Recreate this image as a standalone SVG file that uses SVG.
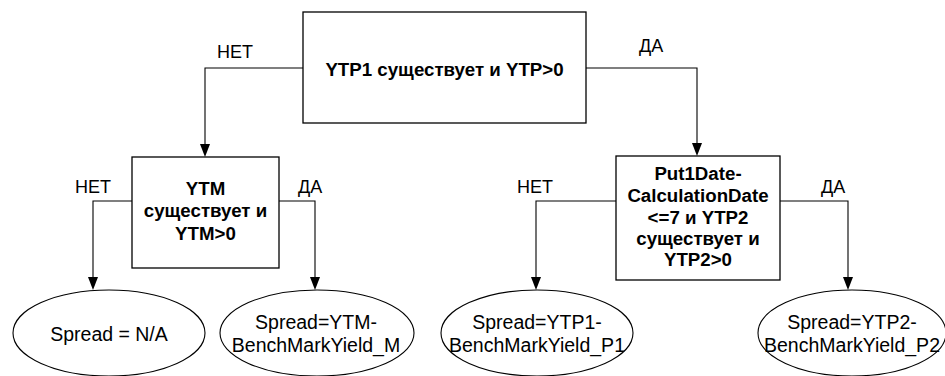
<svg xmlns="http://www.w3.org/2000/svg" width="945" height="376" viewBox="0 0 945 376">
<style>
.box{fill:#fff;stroke:#000;stroke-width:1.3}
.ell{fill:#fff;stroke:#000;stroke-width:1.1}
.c{fill:none;stroke:#000;stroke-width:1.1}
.b{font-family:"Liberation Sans",Arial,sans-serif;font-size:18.7px;font-weight:bold;text-anchor:middle;fill:#000}
.t{font-family:"Liberation Sans",Arial,sans-serif;font-size:19.5px;text-anchor:middle;fill:#000}
.l{font-family:"Liberation Sans",Arial,sans-serif;font-size:18px;fill:#000}
</style>
<g id="connectors">
<path class="c" d="M303,68 H205 V145"/>
<path class="c" d="M586,68 H697 V144"/>
<path class="c" d="M132,201 H93 V278"/>
<path class="c" d="M279,201 H315 V278"/>
<path class="c" d="M616,201 H536 V278"/>
<path class="c" d="M780,201 H848 V278"/>
<path d="M200,144 L210,144 L205,157 Z"/>
<path d="M692,143 L702,143 L697,156 Z"/>
<path d="M88,277 L98,277 L93,290 Z"/>
<path d="M310,277 L320,277 L315,290 Z"/>
<path d="M531,277 L541,277 L536,290 Z"/>
<path d="M843,277 L853,277 L848,290 Z"/>
<text class="l" x="217" y="58">НЕТ</text>
<text class="l" x="639" y="52">ДА</text>
<text class="l" x="75" y="193">НЕТ</text>
<text class="l" x="298" y="193">ДА</text>
<text class="l" x="517" y="193">НЕТ</text>
<text class="l" x="821" y="193">ДА</text>
</g>
<g id="n1">
<rect class="box" x="303" y="12" width="283" height="111"/>
<text class="b" x="444.5" y="76">YTP1 существует и YTP&gt;0</text>
</g>
<g id="n2">
<rect class="box" x="132" y="157" width="147" height="111"/>
<text class="b" x="205.5" y="195">YTM</text>
<text class="b" x="205.5" y="217">существует и</text>
<text class="b" x="205.5" y="240">YTM&gt;0</text>
</g>
<g id="n3">
<rect class="box" x="616" y="156" width="164" height="124"/>
<text class="b" x="698" y="180">Put1Date-</text>
<text class="b" x="698" y="202">CalculationDate</text>
<text class="b" x="698" y="224">&lt;=7 и YTP2</text>
<text class="b" x="698" y="245">существует и</text>
<text class="b" x="698" y="266">YTP2&gt;0</text>
</g>
<g id="e1">
<ellipse class="ell" cx="109" cy="333" rx="96" ry="43"/>
<text class="t" x="109" y="341">Spread = N/A</text>
</g>
<g id="e2">
<ellipse class="ell" cx="317" cy="333" rx="97" ry="43"/>
<text class="t" x="316" y="329">Spread=YTM-</text>
<text class="t" x="316" y="352">BenchMarkYield_M</text>
</g>
<g id="e3">
<ellipse class="ell" cx="537" cy="333" rx="96" ry="43"/>
<text class="t" x="537" y="329">Spread=YTP1-</text>
<text class="t" x="537" y="352">BenchMarkYield_P1</text>
</g>
<g id="e4">
<ellipse class="ell" cx="852" cy="333" rx="94" ry="43"/>
<text class="t" x="852" y="329">Spread=YTP2-</text>
<text class="t" x="852" y="352">BenchMarkYield_P2</text>
</g>
</svg>
